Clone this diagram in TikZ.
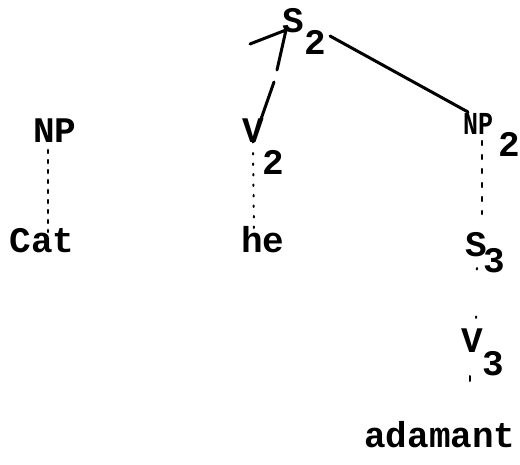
\documentclass[tikz,border=0pt]{standalone}
\usepackage{fontspec}
\usepackage{graphicx}
\setmainfont{Liberation Mono}
\usetikzlibrary{calc}
\begin{document}
\begin{tikzpicture}[x=1pt,y=-1pt,
  lbl/.style={font=\fontsize{36}{36}\selectfont\bfseries, inner sep=0pt, anchor=base},
  branch/.style={line width=3pt, line cap=round, line join=round},
  dotline/.style={line width=2.4pt, line cap=round, dash pattern=on 3pt off 7pt},
  sparse/.style={line width=2pt, line cap=round, dash pattern=on 1.5pt off 47pt}]
\useasboundingbox (0,0) rectangle (520,465);

% labels of the tree (placed by their baselines)
\node[lbl] (s2)   at (293,33)  {S};
\node[lbl] (s2i)  at (315,55)  {2};
\node[lbl] (np1)  at (55,143)  {NP};
\node[lbl] (v2)   at (253,143) {V};
\node[lbl] (v2i)  at (273,175) {2};
\node[lbl, font=\fontsize{32}{32}\selectfont\bfseries] (np2) at (478,135) {\scalebox{0.78}[1]{NP}};
\node[lbl] (np2i) at (509,157) {2};
\node[lbl] (cat)  at (42,253)  {Cat};
\node[lbl] (he)   at (263,253) {he};
\node[lbl] (s3)   at (476,257) {S};
\node[lbl] (s3i)  at (494,273) {3};
\node[lbl] (v3)   at (472,353) {V};
\node[lbl] (v3i)  at (493,375) {3};
\node[lbl] (adam) at (440,447) {adamant};

% solid branches from S2
\draw[branch] ($(s2.base)+(-43,11)$) -- ($(s2.base)+(-7,-3)$) -- ($(s2.base)+(-16,37)$);
\draw[branch] ($(s2.base)+(-19,49)$) -- ($(v2.base)+(0,-1)$);
\draw[branch] ($(s2.base)+(37,3)$) -- ($(np2.base)+(-10,-23)$);

% dotted links down to the words
\draw[dotline] ($(np1.base)+(-7,7)$) -- ($(cat.base)+(6,-21)$);
\draw[dotline, line width=2pt, dash pattern=on 1.5pt off 9pt] ($(v2.base)+(0,10)$) -- ($(he.base)+(-9,-17)$);
\draw[dotline, dash pattern=on 4pt off 10pt] ($(np2.base)+(4,6)$) -- ($(s3.base)+(6,-43)$);
\draw[sparse] ($(s3.base)+(1,11)$) -- ($(v3.base)+(4,-35)$);
\draw[sparse, dash pattern=on 5pt off 45pt] ($(v3.base)+(-2,23)$) -- ($(adam.base)+(30,-21)$);
\end{tikzpicture}
\end{document}
